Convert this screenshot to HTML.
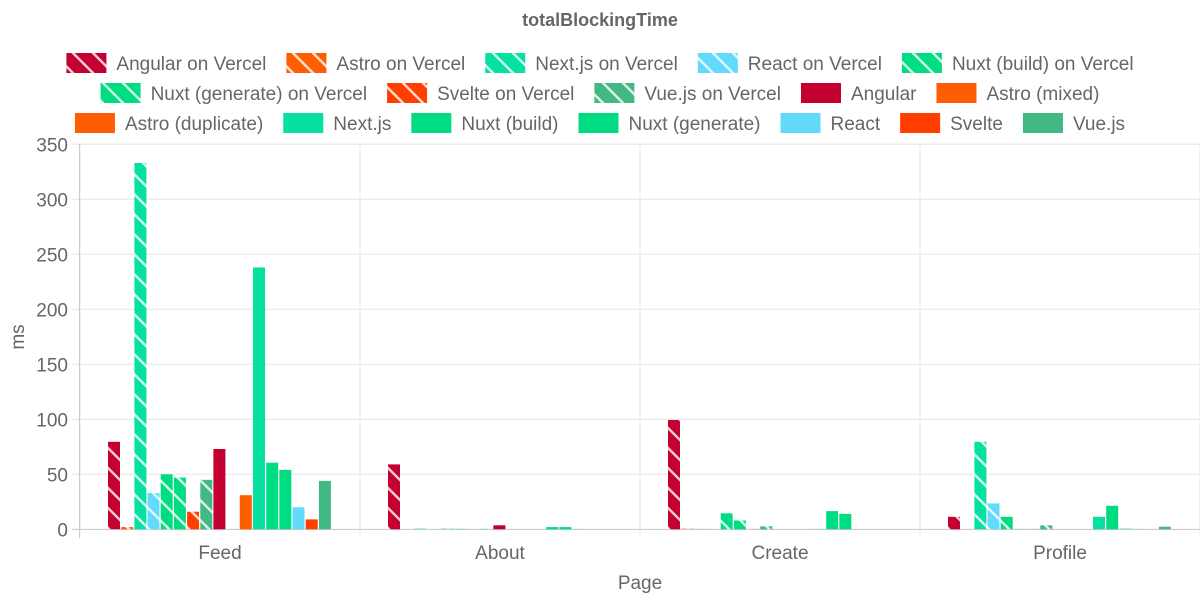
<!DOCTYPE html>
<html><head><meta charset="utf-8"><style>
body{margin:0;background:#fff;width:1200px;height:600px;overflow:hidden;font-family:"Liberation Sans",Arial,sans-serif}
</style></head><body>
<svg id="c" width="1200" height="600" xmlns="http://www.w3.org/2000/svg" font-family="Liberation Sans, Arial, sans-serif"></svg>
<script>
const C={ang:'#c3002f',ast:'#ff5d01',next:'#06e0a1',react:'#61dafb',nuxt:'#00dc82',sv:'#ff3e00',vue:'#42b883'};
const ds=[
['Angular on Vercel',C.ang,1,[79.5,59,99.4,11.4]],
['Astro on Vercel',C.ast,1,[2,0,1,0]],
['Next.js on Vercel',C.next,1,[333,1,0.5,79.5]],
['React on Vercel',C.react,1,[33,0,0,23.5]],
['Nuxt (build) on Vercel',C.nuxt,1,[50,1,14.5,11.4]],
['Nuxt (generate) on Vercel',C.nuxt,1,[47,0.6,8,0.5]],
['Svelte on Vercel',C.sv,1,[16,0,0.5,0.5]],
['Vue.js on Vercel',C.vue,1,[45,0.6,2.7,3.6]],
['Angular',C.ang,0,[73,3.6,0,0]],
['Astro (mixed)',C.ast,0,[0,0,0,0]],
['Astro (duplicate)',C.ast,0,[31,0,0,0]],
['Next.js',C.next,0,[238,0,0.5,11.4]],
['Nuxt (build)',C.nuxt,0,[60.5,2,16.5,21.4]],
['Nuxt (generate)',C.nuxt,0,[54,2,14,1]],
['React',C.react,0,[20,0.5,0,0.5]],
['Svelte',C.sv,0,[9,0,0,0]],
['Vue.js',C.vue,0,[44,0,0,2.4]]];
let s='<defs>';
Object.entries(C).forEach(([k,c])=>{s+=`<pattern id="p${k}" patternUnits="userSpaceOnUse" width="20" height="20"><rect width="20" height="20" fill="${c}"/><path d="M-5,-5L25,25M-5,15L5,25M15,-5L25,5" stroke="rgba(255,255,255,0.8)" stroke-width="2.5"/></pattern>`});
s+='</defs>';
const key=c=>Object.keys(C).find(k=>C[k]===c);
const Y=v=>529.3-v*1.1;
s+=`<text x="600" y="26" text-anchor="middle" font-weight="bold" font-size="18" fill="#666">totalBlockingTime</text>`;
for(let i=0;i<=7;i++){const y=Y(i*50);s+=`<line x1="72" x2="1200" y1="${y}" y2="${y}" stroke="#e5e5e5"/><text x="68" y="${y+7}" text-anchor="end" font-size="19" fill="#666">${i*50}</text>`}
for(let i=0;i<5;i++){const x=80+i*280;s+=`<line x1="${x}" x2="${x}" y1="144" y2="538" stroke="#e5e5e5"/>`}
s+=`<line x1="79.5" x2="79.5" y1="144" y2="538" stroke="#ccc"/><line x1="72" x2="1200" y1="529.5" y2="529.5" stroke="#ccc"/>`;
['Feed','About','Create','Profile'].forEach((l,i)=>{s+=`<text x="${220+i*280}" y="559" text-anchor="middle" font-size="19" fill="#666">${l}</text>`});
s+=`<text x="640" y="589" text-anchor="middle" font-size="19" fill="#666">Page</text>`;
s+=`<text transform="translate(24,337) rotate(-90)" text-anchor="middle" font-size="19" fill="#666">ms</text>`;
ds.forEach((d,j)=>{d[3].forEach((v,i)=>{if(v<=0)return;const x=108+i*280+j*13.18;const y=Y(v);const f=d[2]?`url(#p${key(d[1])})`:d[1];
s+=`<rect x="${x.toFixed(1)}" y="${y.toFixed(1)}" width="12" height="${(529.3-y).toFixed(1)}" fill="${f}" ${v<1.5?'opacity="0.35"':''}/>`})});
const rows=[[0,1,2,3,4],[5,6,7,8,9],[10,11,12,13,14,15,16]];
const ctx=document.createElement('canvas').getContext('2d');ctx.font='19px "Liberation Sans", Arial';
rows.forEach((r,ri)=>{const ws=r.map(i=>40+10+ctx.measureText(ds[i][0]).width);const tot=ws.reduce((a,b)=>a+b,0)+(r.length-1)*20;let x=600-tot/2;const y=63+ri*30;
r.forEach((i,k)=>{const d=ds[i];const f=d[2]?`url(#p${key(d[1])})`:d[1];s+=`<rect x="${x}" y="${y-10}" width="40" height="20" fill="${f}"/><text x="${x+50}" y="${y+7}" font-size="19" fill="#666">${d[0]}</text>`;x+=ws[k]+20})});
document.getElementById('c').innerHTML=s;
</script>
</body></html>
